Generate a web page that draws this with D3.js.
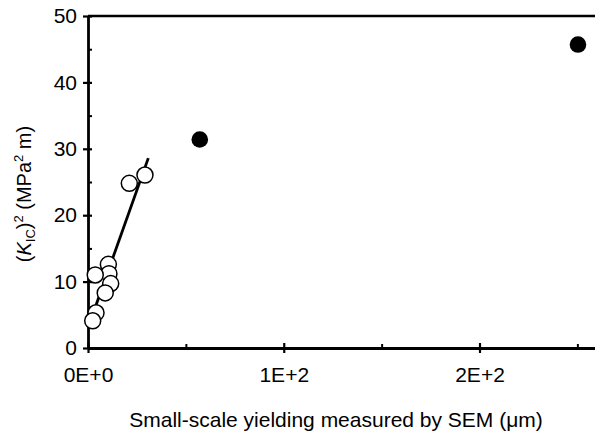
<!DOCTYPE html>
<html><head><meta charset="utf-8">
<script src="https://cdn.jsdelivr.net/npm/d3@7"></script>
<style>body{margin:0;background:#fff}svg{display:block}text{font-family:"Liberation Sans",Arial,sans-serif;fill:#000}</style>
</head><body>
<svg id="c" width="595" height="435"></svg>
<script>
const openX = [21.1, 29.1, 10.4, 10.7, 11.6, 8.8, 3.7, 4.1, 2.4];
const openY = [24.8, 26.05, 12.6, 11.2, 9.7, 8.3, 11.0, 5.3, 4.1];
const filledX = [57.1, 250.3];
const filledY = [31.4, 45.7];
const fitX = [1.5, 30.8];
const fitY = [4.3, 28.6];
const xTicks = [0, 100, 200];
const xTickLabels = ["0E+0", "1E+2", "2E+2"];
const xMinor = [50, 150, 250];
const yTicks = [0, 10, 20, 30, 40, 50];
const yMinor = [5, 15, 25, 35, 45];

const svg = d3.select("#c");
const x = d3.scaleLinear().domain([0, 259]).range([88, 595]);
const y = d3.scaleLinear().domain([0, 50]).range([348, 16]);

// top border
svg.append("line").attr("x1", x(0)).attr("x2", 595).attr("y1", y(50)).attr("y2", y(50))
  .attr("stroke", "#000").attr("stroke-width", 2.5);

// y axis
const gy = svg.append("g").attr("transform", `translate(${x(0)},0)`)
  .call(d3.axisLeft(y).tickValues(yTicks).tickSizeInner(5).tickSizeOuter(0).tickPadding(6));
gy.select(".domain").attr("stroke-width", 2.8);
gy.selectAll(".tick line").attr("x1", 4).attr("x2", -5).attr("stroke-width", 2.2);
gy.selectAll(".tick text").attr("font-size", 21);
const gym = svg.append("g").attr("transform", `translate(${x(0)},0)`)
  .call(d3.axisLeft(y).tickValues(yMinor).tickSize(-4).tickFormat(""));
gym.select(".domain").remove();
gym.selectAll(".tick line").attr("stroke-width", 2);

// x axis
const gx = svg.append("g").attr("transform", `translate(0,${y(0)})`)
  .call(d3.axisBottom(x).tickValues(xTicks).tickFormat((d, i) => xTickLabels[i]).tickSizeInner(5).tickSizeOuter(0).tickPadding(14));
gx.select(".domain").attr("stroke-width", 2.8);
gx.selectAll(".tick line").attr("y1", -5).attr("y2", 5).attr("stroke-width", 2.2);
gx.selectAll(".tick text").attr("font-size", 21);
const gxm = svg.append("g").attr("transform", `translate(0,${y(0)})`)
  .call(d3.axisBottom(x).tickValues(xMinor).tickSize(-4).tickFormat(""));
gxm.select(".domain").remove();
gxm.selectAll(".tick line").attr("stroke-width", 2);

// fit line
svg.append("line")
  .attr("x1", x(fitX[0])).attr("y1", y(fitY[0]))
  .attr("x2", x(fitX[1])).attr("y2", y(fitY[1]))
  .attr("stroke", "#000").attr("stroke-width", 2.8);

// open circles
svg.append("g").selectAll("circle").data(openX).join("circle")
  .attr("cx", d => x(d)).attr("cy", (d, i) => y(openY[i])).attr("r", 8)
  .attr("fill", "#fff").attr("stroke", "#000").attr("stroke-width", 1.5);

// filled circles
svg.append("g").selectAll("circle").data(filledX).join("circle")
  .attr("cx", d => x(d)).attr("cy", (d, i) => y(filledY[i])).attr("r", 8.3)
  .attr("fill", "#000");

// x label
svg.append("text").attr("x", 336).attr("y", 427).attr("text-anchor", "middle")
  .attr("font-size", 21).text("Small-scale yielding measured by SEM (\u03bcm)");

// y label
const yl = svg.append("text").attr("transform", "translate(31,194) rotate(-90)")
  .attr("text-anchor", "middle").attr("font-size", 20);
yl.append("tspan").text("(");
yl.append("tspan").attr("font-style", "italic").text("K");
yl.append("tspan").attr("font-size", 13).attr("dy", 4).text("IC");
yl.append("tspan").attr("dy", -4).text(")");
yl.append("tspan").attr("font-size", 13).attr("dy", -8).text("2");
yl.append("tspan").attr("dy", 8).text(" (MPa");
yl.append("tspan").attr("font-size", 13).attr("dy", -8).text("2");
yl.append("tspan").attr("dy", 8).text(" m)");
</script>
</body></html>
